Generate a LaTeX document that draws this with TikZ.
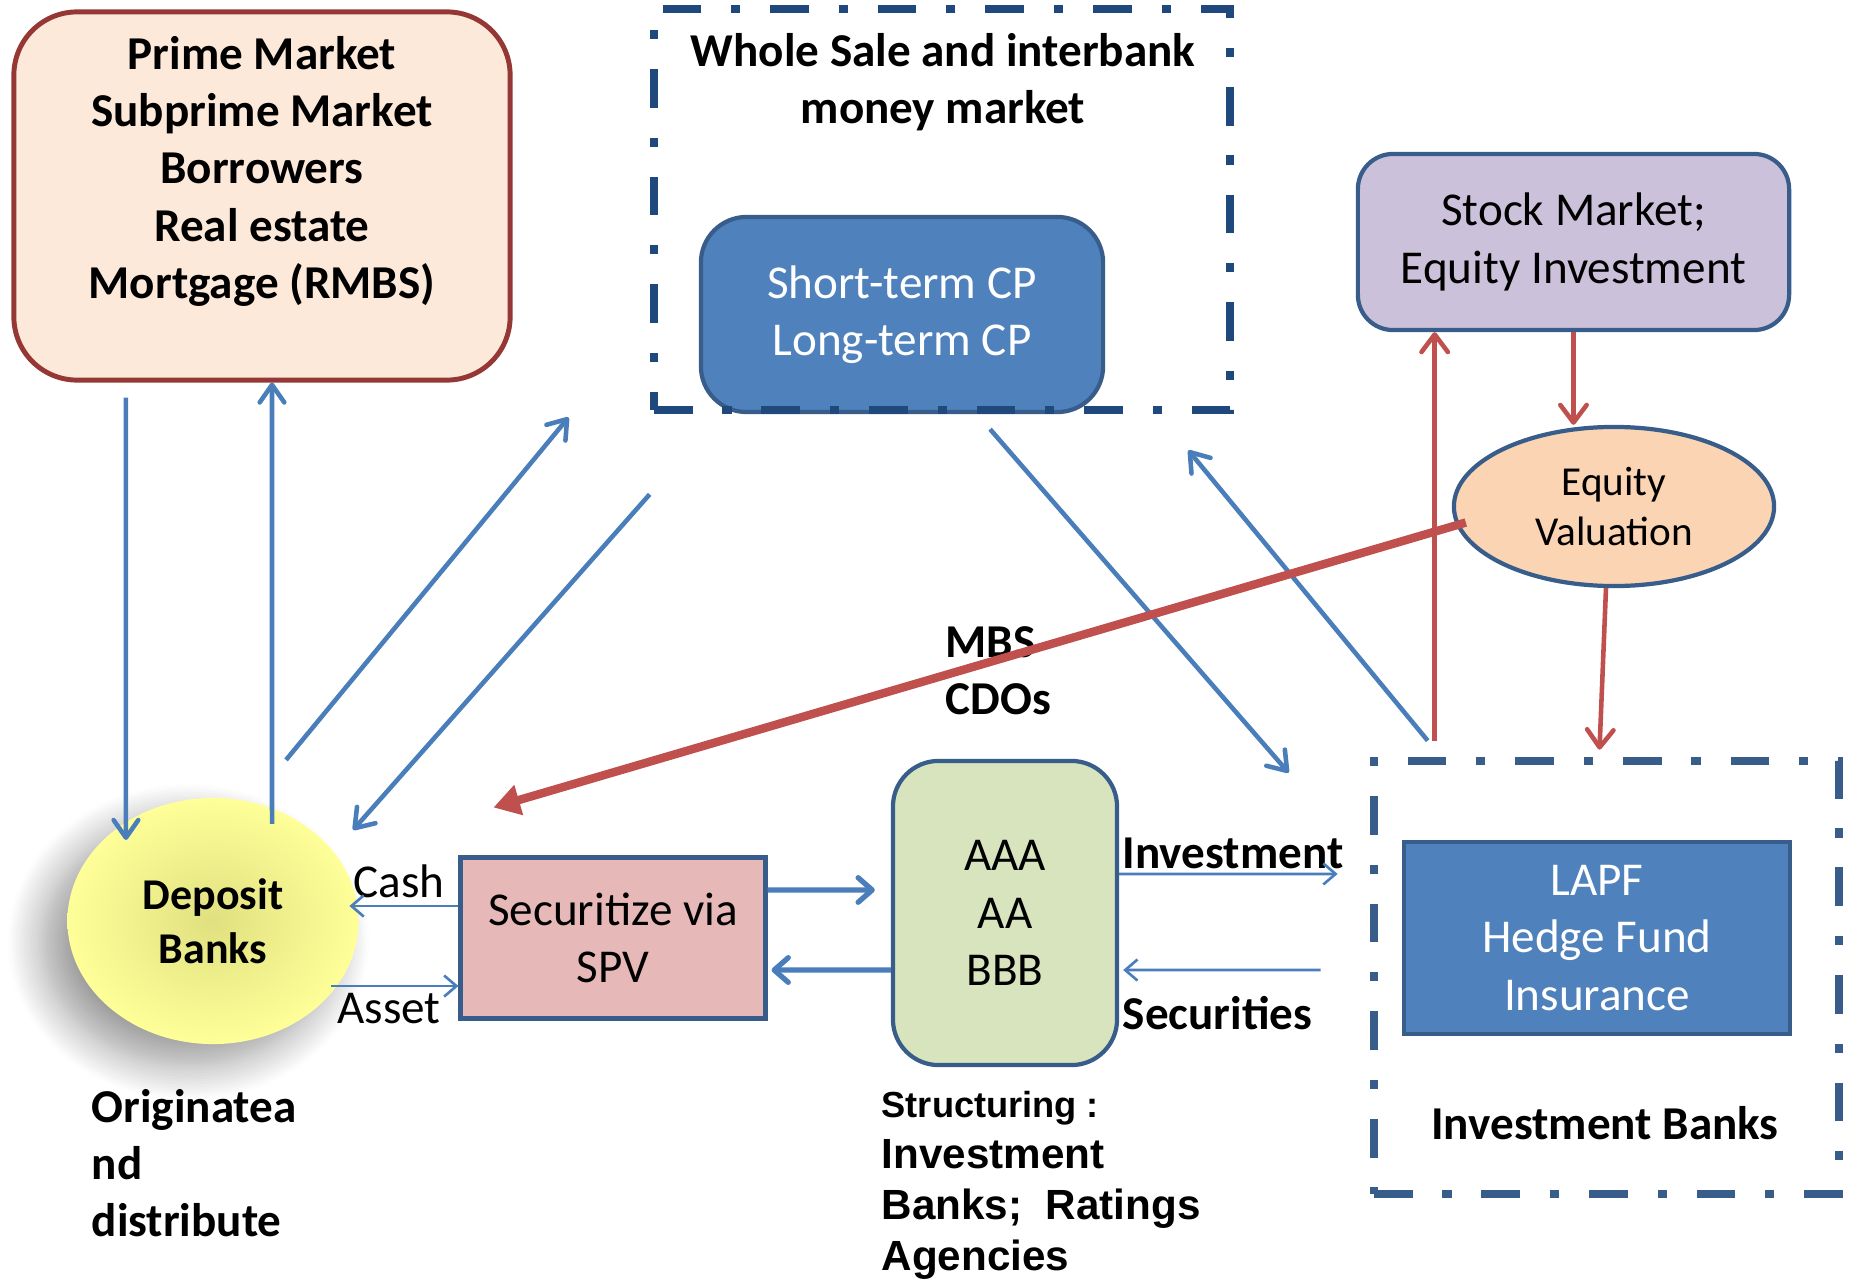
\documentclass[tikz,border=0pt]{standalone}
\usepackage{fontspec}
\setmainfont{Carlito}
\newfontfamily\arialfont{Liberation Sans}
\usetikzlibrary{arrows.meta, shapes.geometric, shadows.blur}

\definecolor{primefill}{RGB}{253,233,217}
\definecolor{primeline}{RGB}{149,55,53}
\definecolor{edgeblue}{RGB}{56,93,138}
\definecolor{darkdash}{RGB}{31,73,125}
\definecolor{cpblue}{RGB}{79,129,189}
\definecolor{stockfill}{RGB}{204,193,218}
\definecolor{valfill}{RGB}{251,212,180}
\definecolor{spvfill}{RGB}{230,185,184}
\definecolor{ratefill}{RGB}{215,228,189}
\definecolor{flowblue}{RGB}{74,126,187}
\definecolor{flowred}{RGB}{192,80,77}
\definecolor{bankyellow}{RGB}{255,255,153}
\definecolor{bankshade}{RGB}{224,224,128}

\begin{document}
\begin{tikzpicture}[
            x=0.01cm, y=-0.01cm,
            every node/.style={font=\fontsize{13.4}{16.3}\selectfont, align=center},
            box/.style={
                    draw=edgeblue,
                    line width=1.2pt,
                    inner sep=0pt
                },
            groupbox/.style={
                    draw,
                    line width=2.4pt,
                    dash pattern=on 11pt off 8.5pt on 2.6pt off 8.5pt
                },
            label/.style={
                    inner sep=0pt
                },
            arrow/.style={
                    -{Straight Barb[length=5pt,width=7pt,round]},
                    line width=1.3pt,
                    flowblue
                },
            smallarrow/.style={
                    -{Straight Barb[length=3.5pt,width=6pt]},
                    line width=0.75pt,
                    flowblue
                },
            fatarrow/.style={
                    -{Straight Barb[length=4pt,width=7pt,round]},
                    line width=1.5pt,
                    flowblue
                },
            redarrow/.style={
                    -{Straight Barb[length=5pt,width=7.5pt,round]},
                    line width=1.3pt,
                    flowred
                },
            bigred/.style={
                    -{Triangle[length=7.5pt,width=8.5pt]},
                    line width=2.4pt,
                    flowred
                }
        ]

        \useasboundingbox (0,0) rectangle (1860,1279);

        \node[box, draw=primeline, line width=1.4pt, fill=primefill, rounded corners=18pt,
            minimum width=4.96cm, minimum height=3.68cm] (prime) at (262,196)
        {
            \textbf{Prime Market}\\
            \textbf{Subprime Market}\\
            \textbf{Borrowers}\\
            \textbf{Real estate}\\
            \textbf{Mortgage (RMBS)}\\
            \mbox{}
        };

        \node[box, fill=cpblue, text=white, rounded corners=13pt,
            minimum width=4.02cm, minimum height=1.95cm] (cp) at (902,314.5)
        {
            Short-term CP\\
            Long-term CP
        };

        \node[groupbox, draw=darkdash, minimum width=5.76cm, minimum height=4.01cm] (wholesale) at (942,209.5) {};

        \node[label] (wtitle) at (943,82)
        {
            \textbf{Whole Sale and interbank}\\
            \textbf{money market}
        };

        \node[box, fill=stockfill, rounded corners=10pt,
            minimum width=4.31cm, minimum height=1.76cm] (stock) at (1573.5,242)
        {
            Stock Market;\\
            Equity Investment
        };

        \node[box, ellipse, fill=valfill, minimum width=3.2cm, minimum height=1.59cm,
            font=\fontsize{11.7}{14.3}\selectfont] (valuation) at (1614,506.5)
        {
            Equity\\
            Valuation
        };

        \node[ellipse, inner color=bankshade, outer color=bankyellow,
            minimum width=2.91cm, minimum height=2.46cm,
            blur shadow={shadow xshift=-7pt, shadow yshift=-6pt, shadow blur radius=10pt, shadow blur steps=14},
            font=\fontsize{12.5}{15.5}\selectfont] (deposit) at (213,921)
        {
            \textbf{Deposit}\\
            \textbf{Banks}
        };

        \node[box, fill=spvfill, line width=1.4pt,
            minimum width=3.04cm, minimum height=1.6cm] (spv) at (613,938)
        {
            Securitize via\\
            SPV
        };

        \node[box, fill=ratefill, rounded corners=13pt,
            minimum width=2.24cm, minimum height=3.04cm] (ratings) at (1005,913)
        {
            AAA\\
            AA\\
            BBB
        };

        \node[groupbox, draw=edgeblue, minimum width=4.65cm, minimum height=4.33cm] (invbanks) at (1606.5,977.5) {};

        \node[box, fill=cpblue, text=white,
            minimum width=3.86cm, minimum height=1.92cm] (funds) at (1597,938)
        {
            LAPF\\
            Hedge Fund\\
            Insurance
        };

        \node[label] (ibtitle) at (1605,1123) {\textbf{Investment Banks}};

        \node[label] (cash) at (399,881) {Cash};
        \node[label] (asset) at (389,1009) {Asset};
        \node[label, anchor=west, align=left] (mbs) at (945,671)
        {
            \textbf{MBS}\\
            \textbf{CDOs}
        };
        \node[label, anchor=west] (invest) at (1122,853) {\textbf{Investment}};
        \node[label, anchor=west] (secur) at (1122,1013) {\textbf{Securities}};

        \node[label, anchor=west, align=left] (origin) at (91,1163)
        {
            \textbf{Originatea}\\
            \textbf{nd}\\
            \textbf{distribute}
        };

        \node[label, anchor=west, align=left, font=\arialfont\fontsize{12}{14.5}\selectfont] (struct) at (881,1185)
        {
            \textbf{\fontsize{10.3}{14.5}\selectfont Structuring :}\\
            \textbf{Investment}\\
            \textbf{Banks;\ \ Ratings}\\
            \textbf{Agencies}
        };

        % money flows
        \draw[arrow] ([xshift=-1.36cm,yshift=-0.15cm]prime.south) -- ([xshift=-0.87cm,yshift=0.81cm]deposit.center);
        \draw[arrow] ([xshift=0.59cm,yshift=0.97cm]deposit.center) -- ([xshift=0.1cm]prime.south);

        \draw[arrow] ([xshift=0.73cm,yshift=1.61cm]deposit.center) -- ([xshift=-0.81cm,yshift=-0.03cm]wholesale.south west);
        \draw[arrow] ([yshift=-0.8cm]wholesale.south west) -- ([xshift=1.4cm,yshift=0.91cm]deposit.center);

        \draw[arrow] ([xshift=0.88cm,yshift=-0.15cm]cp.south) -- ([xshift=-0.81cm,yshift=-0.16cm]invbanks.north west);
        \draw[arrow] ([xshift=0.58cm,yshift=0.16cm]invbanks.north west) -- ([xshift=-0.46cm,yshift=-0.36cm]wholesale.south east);

        \draw[smallarrow] ([yshift=0.32cm]spv.west) -- ([xshift=-1.09cm,yshift=0.32cm]spv.west);
        \draw[smallarrow] ([xshift=-1.27cm,yshift=-0.48cm]spv.west) -- ([yshift=-0.48cm]spv.west);

        \draw[fatarrow] ([yshift=0.48cm]spv.east) -- ([xshift=-0.16cm,yshift=0.23cm]ratings.west);
        \draw[fatarrow] ([yshift=-0.57cm]ratings.west) -- ([xshift=0.04cm,yshift=-0.32cm]spv.east);

        \draw[smallarrow] ([yshift=0.39cm]ratings.east) -- ([xshift=-0.32cm,yshift=1.035cm]invbanks.west);
        \draw[smallarrow] ([xshift=-0.49cm,yshift=0.075cm]invbanks.west) -- ([xshift=0.04cm,yshift=-0.57cm]ratings.east);

        % equity side
        \coordinate (equityup) at ([xshift=0.65cm,yshift=0.16cm]invbanks.north west);
        \draw[redarrow] (equityup) -- (equityup |- stock.south);
        \draw[redarrow] (stock.south) -- (stock.south |- valuation.north);
        \draw[redarrow] ([xshift=-0.08cm]valuation.south) -- ([xshift=-0.07cm,yshift=0.07cm]invbanks.north);
        \draw[bigred] ([xshift=0.14cm,yshift=-0.16cm]valuation.west) -- ([xshift=0.35cm,yshift=0.48cm]spv.north west);

    \end{tikzpicture}
\end{document}
